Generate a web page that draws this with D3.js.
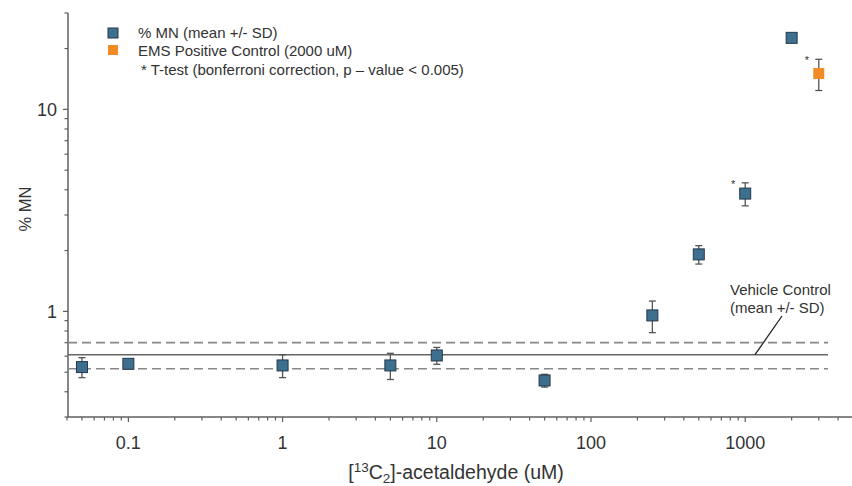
<!DOCTYPE html>
<html>
<head>
<meta charset="utf-8">
<script src="https://cdn.jsdelivr.net/npm/d3@7/dist/d3.min.js"></script>
<style>
  html, body { margin: 0; padding: 0; background: #fff; }
  svg { display: block; font-family: "Liberation Sans", Arial, sans-serif; }
</style>
</head>
<body>
<svg id="chart" width="852" height="486"></svg>
<script>
// ---- data ----
const concentrations = [0.05, 0.1, 1, 5, 10, 50, 250, 500, 1000, 2000];
const meanMN        = [0.53, 0.55, 0.54, 0.54, 0.605, 0.455, 0.955, 1.915, 3.83, 22.6];
const sdMN          = [0.06, 0.01, 0.07, 0.08, 0.058, 0.033, 0.17, 0.2, 0.5, 1.0];
const significant   = [false, false, false, false, false, false, false, false, true, false];

const emsConcentrationPlot = [3000];
const emsMean = [15.05];
const emsSD = [2.65];
const emsSignificant = [true];

const vehicleMean = 0.61;
const vehicleSD = 0.09;

const xTickValues = [0.1, 1, 10, 100, 1000];
const xTickLabels = ["0.1", "1", "10", "100", "1000"];
const yTickValues = [1, 10];
const yTickLabels = ["1", "10"];

const legendLabels = ["% MN (mean +/- SD)", "EMS Positive Control (2000 uM)", "* T-test (bonferroni correction, p \u2013 value < 0.005)"];

// ---- layout ----
const svg = d3.select("#chart");
const x = d3.scaleLog().domain([0.04, 5000]).range([67, 853]);
const y = d3.scaleLog().domain([0.3, 30]).range([417, 13]);

const axisColor = "#5f5f5f";
const textColor = "#333";
const blue = "#3d6f8e";
const blueStroke = "#26384a";
const orange = "#f28a26";

function minorTicks(domain) {
  const out = [];
  const lo = Math.floor(Math.log10(domain[0])), hi = Math.ceil(Math.log10(domain[1]));
  for (let e = lo; e <= hi; e++) {
    for (let m = 1; m <= 9; m++) {
      const v = m * Math.pow(10, e);
      if (v >= domain[0] * 0.999 && v <= domain[1] * 1.001) out.push(v);
    }
  }
  return out;
}

// X axis
const gx = svg.append("g").attr("transform", "translate(0,417)");
gx.append("line").attr("x1", 67).attr("x2", 852).attr("y1", 0).attr("y2", 0)
  .attr("stroke", axisColor).attr("stroke-width", 1.5);
gx.selectAll("line.minor").data(minorTicks(x.domain())).enter().append("line")
  .attr("class", "minor")
  .attr("x1", d => x(d)).attr("x2", d => x(d))
  .attr("y1", 0).attr("y2", d => xTickValues.includes(d) ? 5 : 3.5)
  .attr("stroke", axisColor).attr("stroke-width", 1.2);
gx.selectAll("text").data(xTickValues).enter().append("text")
  .attr("x", d => x(d)).attr("y", 32)
  .attr("text-anchor", "middle")
  .attr("font-size", 18).attr("fill", textColor)
  .text((d, i) => xTickLabels[i]);

// Y axis
const gy = svg.append("g").attr("transform", "translate(68,0)");
gy.append("line").attr("x1", 0).attr("x2", 0).attr("y1", 13).attr("y2", 417)
  .attr("stroke", axisColor).attr("stroke-width", 1.5);
gy.selectAll("line.minor").data(minorTicks(y.domain())).enter().append("line")
  .attr("x1", d => yTickValues.includes(d) ? -5 : -3.5).attr("x2", 0)
  .attr("y1", d => y(d)).attr("y2", d => y(d))
  .attr("stroke", axisColor).attr("stroke-width", 1.2);
gy.selectAll("text").data(yTickValues).enter().append("text")
  .attr("x", -11).attr("y", d => y(d)).attr("dy", "0.36em")
  .attr("text-anchor", "end")
  .attr("font-size", 18).attr("fill", textColor)
  .text((d, i) => yTickLabels[i]);

// axis titles
svg.append("text")
  .attr("transform", "translate(31,209) rotate(-90)")
  .attr("text-anchor", "middle")
  .attr("font-size", 16.5).attr("fill", textColor)
  .text("% MN");

const xt = svg.append("text")
  .attr("x", 456).attr("y", 479)
  .attr("text-anchor", "middle")
  .attr("font-size", 19.5).attr("fill", textColor);
xt.append("tspan").text("[");
xt.append("tspan").attr("font-size", 13.5).attr("dy", -7).text("13");
xt.append("tspan").attr("dy", 7).text("C");
xt.append("tspan").attr("font-size", 13.5).attr("dy", 4).text("2");
xt.append("tspan").attr("dy", -4).text("]-acetaldehyde (uM)");

// vehicle control lines
const lineX1 = 68, lineX2 = 828;
svg.append("line")
  .attr("x1", lineX1).attr("x2", lineX2)
  .attr("y1", y(vehicleMean)).attr("y2", y(vehicleMean))
  .attr("stroke", "#666").attr("stroke-width", 1.5);
[vehicleMean + vehicleSD, vehicleMean - vehicleSD].forEach(v => {
  svg.append("line")
    .attr("x1", lineX1).attr("x2", lineX2)
    .attr("y1", y(v)).attr("y2", y(v))
    .attr("stroke", "#888").attr("stroke-width", 1.6)
    .attr("stroke-dasharray", "9,5");
});

// annotation
svg.append("line")
  .attr("x1", 755).attr("y1", y(vehicleMean))
  .attr("x2", 782).attr("y2", 316)
  .attr("stroke", "#222").attr("stroke-width", 1.3);
svg.append("text").attr("x", 730).attr("y", 295)
  .attr("font-size", 15).attr("fill", textColor).text("Vehicle Control");
svg.append("text").attr("x", 730).attr("y", 313)
  .attr("font-size", 15).attr("fill", textColor).text("(mean +/- SD)");

// error bars + points
function drawSeries(cs, ms, sds, sig, fill, stroke) {
  const g = svg.append("g");
  cs.forEach((c, i) => {
    const cx = x(c);
    const top = y(ms[i] + sds[i]), bot = y(ms[i] - sds[i]);
    g.append("line").attr("x1", cx).attr("x2", cx).attr("y1", top).attr("y2", bot)
      .attr("stroke", "#555").attr("stroke-width", 1.3);
    [top, bot].forEach(yy => g.append("line")
      .attr("x1", cx - 3.5).attr("x2", cx + 3.5).attr("y1", yy).attr("y2", yy)
      .attr("stroke", "#555").attr("stroke-width", 1.3));
    g.append("rect")
      .attr("x", cx - 5.5).attr("y", y(ms[i]) - 5.5)
      .attr("width", 11).attr("height", 11)
      .attr("fill", fill)
      .attr("stroke", stroke).attr("stroke-width", stroke === "none" ? 0 : 1);
    if (sig[i]) {
      g.append("text").attr("x", cx - 12).attr("y", top + 5)
        .attr("text-anchor", "middle").attr("font-size", 11).attr("fill", "#333")
        .text("*");
    }
  });
}
drawSeries(concentrations, meanMN, sdMN, significant, blue, blueStroke);
drawSeries(emsConcentrationPlot, emsMean, emsSD, emsSignificant, orange, "none");

// legend
const lg = svg.append("g");
lg.append("rect").attr("x", 108).attr("y", 28).attr("width", 10).attr("height", 10)
  .attr("fill", blue).attr("stroke", blueStroke).attr("stroke-width", 1);
lg.append("rect").attr("x", 108).attr("y", 45).attr("width", 10).attr("height", 10)
  .attr("fill", orange);
lg.append("text").attr("x", 138).attr("y", 37.5).attr("font-size", 15).attr("fill", textColor).text(legendLabels[0]);
lg.append("text").attr("x", 138).attr("y", 55.5).attr("font-size", 15).attr("fill", textColor).text(legendLabels[1]);
lg.append("text").attr("x", 141).attr("y", 74.5).attr("font-size", 15).attr("fill", textColor).text(legendLabels[2]);
</script>
</body>
</html>
